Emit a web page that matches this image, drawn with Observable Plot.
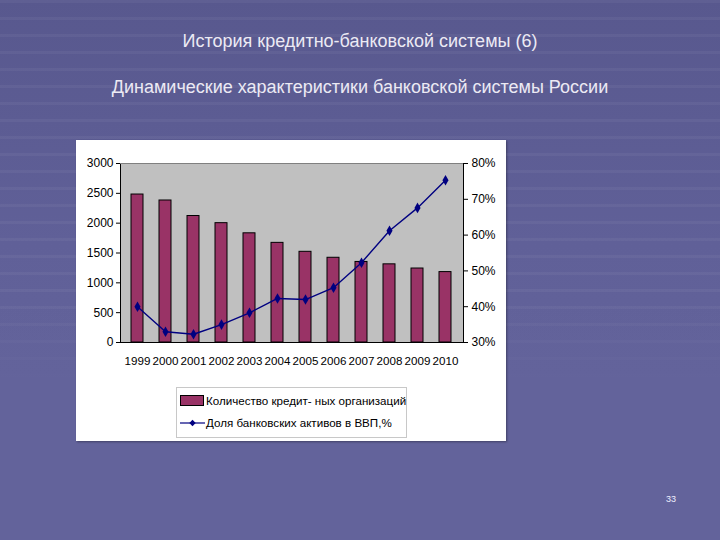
<!DOCTYPE html>
<html>
<head>
<meta charset="utf-8">
<script src="https://cdn.jsdelivr.net/npm/d3@7"></script>
<script src="https://cdn.jsdelivr.net/npm/@observablehq/plot@0.6"></script>
<style>
  html, body { margin: 0; padding: 0; }
  body {
    width: 720px; height: 540px; position: relative; overflow: hidden;
    font-family: "Liberation Sans", Arial, sans-serif;
    background-color: #64649c;
    background-image:
      linear-gradient(to bottom, rgba(100,100,156,0) 0 300px, #63639b 380px),
      repeating-linear-gradient(to bottom, rgba(255,255,255,0.045) 0 3px, rgba(0,0,0,0) 3px 17px),
      linear-gradient(to bottom, #58588e 0%, #606098 45%, #65659d 100%);
  }
  .t1, .t2 { position: absolute; left: 0; width: 720px; text-align: center; color: #eceaf4; }
  .t1 { top: 31px; font-size: 18px; }
  .t2 { top: 77px; font-size: 18px; }
  .pg { position: absolute; left: 666px; top: 494px; font-size: 9px; color: #f0f0ff; }
  #panel { position: absolute; left: 76px; top: 140px; width: 430px; height: 301px; background: #fff;
           box-shadow: 1px 1px 2px rgba(0,0,0,0.35); }
  #chart { position: absolute; left: 0; top: 0; }
  #legend { position: absolute; left: 100px; top: 247px; width: 229px; height: 49px;
            border: 1px solid #c8c8c8; font-size: 11.6px; color: #000; }
  .li { position: absolute; left: 3px; height: 16px; line-height: 16px; white-space: nowrap; }
  .sw { display: inline-block; width: 22px; height: 9px; background: #993366; border: 1px solid #000;
        vertical-align: -1px; margin-right: 2px; }
</style>
</head>
<body>
<div class="t1">История кредитно-банковской системы (6)</div>
<div class="t2">Динамические характеристики банковской системы России</div>
<div id="panel">
  <div id="chart"></div>
  <div id="legend">
    <div class="li" style="top:5px"><span class="sw"></span>Количество кредит- ных организаций</div>
    <div class="li" style="top:27px"><svg width="25" height="10" style="vertical-align:-1px;margin-right:1px"><line x1="0" y1="5" x2="25" y2="5" stroke="#000080" stroke-width="1.2"/><path d="M12.5,1.8L15.7,5L12.5,8.2L9.3,5Z" fill="#000080"/></svg>Доля банковских активов в ВВП,%</div>
  </div>
</div>
<div class="pg">33</div>
<script>
const years = ["1999","2000","2001","2002","2003","2004","2005","2006","2007","2008","2009","2010"];
const orgCount = [2480, 2380, 2120, 2000, 1830, 1670, 1520, 1420, 1350, 1310, 1240, 1180];
const assetShare = [40, 33, 32.3, 35, 38.3, 42.3, 42, 45.3, 52.3, 61.2, 67.6, 75.3];
const leftTicks = [0, 500, 1000, 1500, 2000, 2500, 3000];
const rightTicks = [30, 40, 50, 60, 70, 80];

// right axis (percent 30..80) mapped onto left scale (0..3000)
const pctToLeft = p => (p - 30) * 60;
const leftToPct = v => v / 60 + 30;

const data = years.map((year, i) => ({year, count: orgCount[i], share: assetShare[i]}));

const chart = Plot.plot({
  width: 430,
  height: 240,
  marginLeft: 44,
  marginRight: 43,
  marginTop: 23,
  marginBottom: 38,
  style: {fontFamily: "'Liberation Sans', Arial, sans-serif", fontSize: "12px", background: "transparent", color: "#000"},
  x: {type: "band", domain: years, paddingInner: 0.57, paddingOuter: 0.28},
  y: {domain: [0, 3000]},
  marks: [
    Plot.frame({fill: "#c0c0c0", stroke: "#000", strokeWidth: 1}),
    Plot.ruleY([3000], {stroke: "#808080", strokeWidth: 1}),
    Plot.barY(data, {x: "year", y: "count", fill: "#993366", stroke: "#000", strokeWidth: 1}),
    Plot.line(data, {x: "year", y: d => pctToLeft(d.share), stroke: "#000080", strokeWidth: 1.4}),
    Plot.dot(data, {x: "year", y: d => pctToLeft(d.share), symbol: "diamond", r: 3.2, fill: "#000080"}),
    Plot.axisY(leftTicks, {anchor: "left", tickSize: 4, tickPadding: 3, label: null, fontSize: 12, stroke: "#000",
      tickFormat: v => String(v)}),
    Plot.axisY(rightTicks.map(pctToLeft), {anchor: "right", tickSize: 4, tickPadding: 4, label: null, fontSize: 12,
      tickFormat: v => Math.round(leftToPct(v)) + "%", stroke: "#000"}),
    Plot.axisX({anchor: "bottom", tickSize: 0, tickPadding: 14, label: null, fontSize: 11.6})
  ]
});
document.getElementById("chart").appendChild(chart);
</script>
</body>
</html>
